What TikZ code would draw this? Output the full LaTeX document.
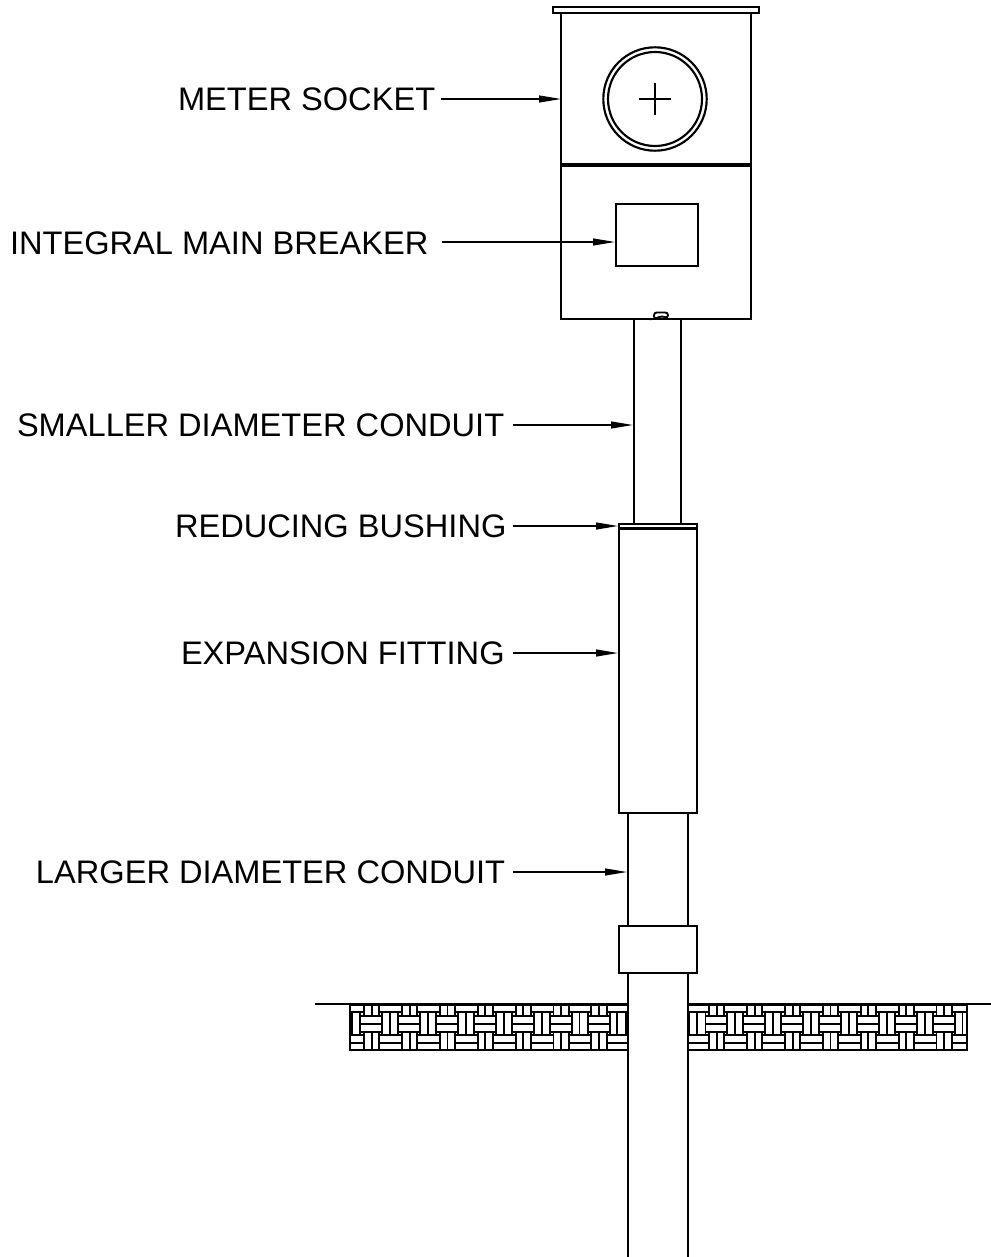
\documentclass[tikz,border=0pt]{standalone}
\usepackage{fontspec}
\setmainfont{Liberation Sans}
\usetikzlibrary{arrows.meta}
\tikzset{
  part/.style={draw=black,line width=1.6pt,fill=white,line join=miter},
  hatchline/.style={draw=black,line width=1.4pt},
  leader/.style={draw=black,line width=1pt,-{Triangle[length=16.5pt,width=5.2pt]}},
  label/.style={anchor=base west,inner sep=0pt,outer sep=0pt,font=\fontsize{24.45pt}{28pt}\selectfont,text=black},
}
\newcommand{\hatchrun}[3]{%
  \begin{scope}
    \clip (#1,1005) rectangle (#2,1050);
    \foreach \k in {-1,...,16}{
      \begin{scope}[xshift=\k*37.9*0.75pt+#3*0.75pt]
        \foreach \vx in {364,371.7,379.3}{
          \draw[hatchline] (\vx,1005) -- (\vx,1015.7);
          \draw[hatchline] (\vx,1032.3) -- (\vx,1050);
        }
        \foreach \vx in {382.3,390,398.3}{
          \draw[hatchline] (\vx,1011.7) -- (\vx,1035);
        }
        \foreach \hy in {1015.7,1024,1032.3}{
          \draw[hatchline] (360.4,\hy) -- (382.3,\hy);
        }
        \foreach \hy in {1011.7,1035,1042.7}{
          \draw[hatchline] (379.3,\hy) -- (401.9,\hy);
        }
      \end{scope}
    }
  \end{scope}
  \draw[part,fill=none] (#1,1005) rectangle (#2,1050);
}
\begin{document}
\begin{tikzpicture}[x=0.75pt,y=-0.75pt]
\useasboundingbox (0,0) rectangle (991,1257);
\fill[white] (0,0) rectangle (991,1257);

% ground hatch
\hatchrun{350}{628}{0}
\hatchrun{688}{967}{4}
\draw[part] (315,1004) -- (628,1004);
\draw[part] (688,1004) -- (991,1004);

% conduit
\draw[part,fill=none] (628,813) -- (628,1257);
\draw[part,fill=none] (688,813) -- (688,1257);
\draw[part] (619,926) rectangle (697,973);
\draw[part,fill=none] (634,319) -- (634,524);
\draw[part,fill=none] (681,319) -- (681,524);
\draw[part] (619,528.5) rectangle (697,813);
\draw[part] (619,524) rectangle (697,528.5);

% enclosure
\draw[part] (561,13) rectangle (751,319);
\draw[part] (553,7) rectangle (759,13);
\draw[draw=black,line width=2.6pt] (561,165) -- (751,165);
\draw[part,fill=none] (655,99) circle (51.7);
\draw[part,fill=none] (655,99) circle (47);
\draw[draw=black,line width=1.1pt] (655,82.7) -- (655,115.3);
\draw[draw=black,line width=1.1pt] (638.7,99) -- (671.3,99);
\draw[part] (616,204) rectangle (698,266);

% latch
\draw[draw=black,line width=1.4pt,fill=white,rounded corners=2pt] (654,319) -- (654,312.5) -- (668,312.5) -- (668,318) -- (661,316) -- (657,318) -- cycle;

% leader targets
\coordinate (tMeter) at (561,99);
\coordinate (tBreaker) at (615,242);
\coordinate (tSmall) at (633,425);
\coordinate (tBushing) at (618,526);
\coordinate (tExpansion) at (618,653);
\coordinate (tLarge) at (627,872);

% labels
\node[label] (lMeter) at (178,110) {METER SOCKET};
\node[label] (lBreaker) at (10,254) {INTEGRAL MAIN BREAKER};
\node[label] (lSmall) at (17,436) {SMALLER DIAMETER CONDUIT};
\node[label] (lBushing) at (175,537) {REDUCING BUSHING};
\node[label] (lExpansion) at (181,664) {EXPANSION FITTING};
\node[label] (lLarge) at (36,883) {LARGER DIAMETER CONDUIT};

% leaders
\coordinate (sMeter) at (441,99);
\coordinate (sBreaker) at (442,242);
\coordinate (sSmall) at (513,425);
\coordinate (sBushing) at (513,526);
\coordinate (sExpansion) at (513,653);
\coordinate (sLarge) at (513,872);
\draw[leader] (sMeter) -- (tMeter);
\draw[leader] (sBreaker) -- (tBreaker);
\draw[leader] (sSmall) -- (tSmall);
\draw[leader] (sBushing) -- (tBushing);
\draw[leader] (sExpansion) -- (tExpansion);
\draw[leader] (sLarge) -- (tLarge);
\end{tikzpicture}
\end{document}
